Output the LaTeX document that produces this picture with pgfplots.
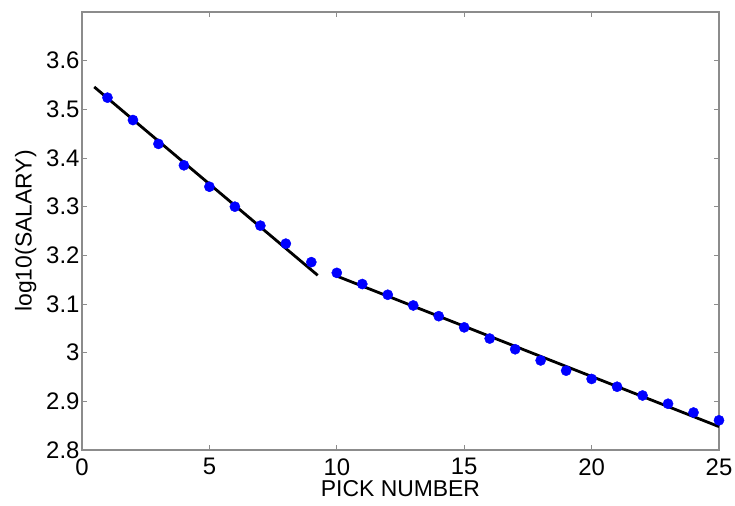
\documentclass[border=0pt]{standalone}
\usepackage{pgfplots}
\pgfplotsset{compat=1.18}
\usepackage{fontspec}
\setmainfont{Liberation Sans}
\definecolor{axgray}{RGB}{140,140,140}
\definecolor{dotblue}{RGB}{0,0,255}
\begin{document}
\begin{tikzpicture}
\path[use as bounding box] (-82bp,-56bp) rectangle (653bp,450bp);
\begin{axis}[
  at={(0,0)}, anchor=south west,
  scale only axis, width=637bp, height=438bp,
  xmin=0, xmax=25, ymin=2.8, ymax=3.7,
  xtick={0,5,10,15,20,25},
  ytick={2.8,2.9,3.0,3.1,3.2,3.3,3.4,3.5,3.6},
  yticklabels={2.8,2.9,3,3.1,3.2,3.3,3.4,3.5,3.6},
  /pgf/number format/assume math mode=true,
  tick label style={font=\fontsize{24}{27}\selectfont, text=black},
  label style={font=\fontsize{23}{26}\selectfont, text=black},
  xlabel={PICK NUMBER},
  ylabel={log10(SALARY)},
  axis line style={axgray, line width=1.2bp},
  major tick style={axgray, line width=0.8bp},
  major tick length=5bp,
  tick align=inside,
  xticklabel style={yshift=-5bp},
  yticklabel style={xshift=1bp},
  xlabel style={yshift=2bp},
  ylabel style={yshift=3bp},
  clip=false,
]
\addplot[black, line width=2.8bp] coordinates {(0.48,3.546) (9.25,3.159)};
\addplot[black, line width=2.8bp] coordinates {(9.97,3.158) (25,2.848)};
\addplot[only marks, mark=*, mark size=5.1bp, mark options={fill=dotblue, draw=dotblue}] coordinates {
(1,3.524) (2,3.478) (3,3.429) (4,3.385) (5,3.341) (6,3.300) (7,3.261) (8,3.224) (9,3.186)
(10,3.164) (11,3.141) (12,3.119) (13,3.097) (14,3.075) (15,3.052) (16,3.029) (17,3.007)
(18,2.984) (19,2.963) (20,2.946) (21,2.930) (22,2.912) (23,2.895) (24,2.877) (25,2.861)
};
\end{axis}
\end{tikzpicture}
\end{document}
